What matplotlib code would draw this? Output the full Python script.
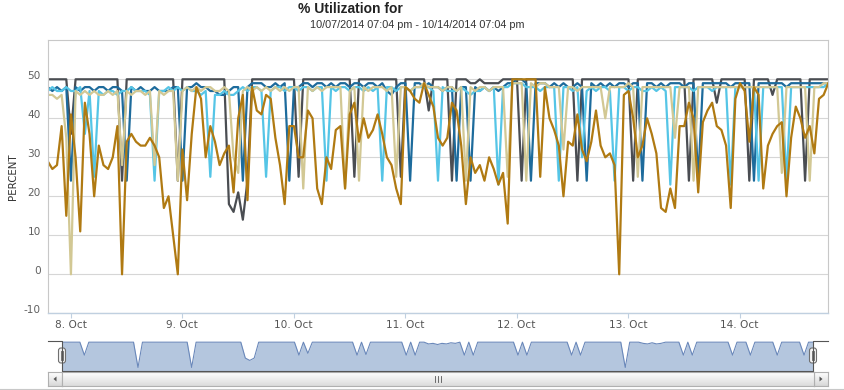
import numpy as np
import pandas as pd
import matplotlib
matplotlib.use("Agg")
import matplotlib.pyplot as plt
import matplotlib.dates as mdates
import matplotlib.transforms as mtransforms
from matplotlib.patches import Rectangle, FancyBboxPatch, Polygon
from matplotlib.lines import Line2D
from matplotlib.colors import LinearSegmentedColormap

W, H = 845, 390  # output size in pixels

# hourly samples, 10/07/2014 07:04 pm .. 10/14/2014 07:04 pm
times = pd.date_range("2014-10-07 19:04", periods=169, freq="h")

# % utilization per interface
gray = [50, 50, 50, 50, 50, 36, 50, 50, 50, 50, 50, 50, 50, 50, 50, 50, 24, 50, 50, 50, 50, 50, 50, 50,
        50, 50, 50, 50, 24, 50, 50, 50, 50, 50, 50, 50, 50, 50, 50, 18, 16, 21, 14, 24, 50, 50, 50, 50,
        50, 50, 50, 50, 50, 50, 25, 50, 50, 50, 50, 50, 50, 50, 50, 50, 50, 50, 25, 50, 50, 50, 50, 50,
        50, 50, 50, 50, 25, 50, 50, 50, 50, 50, 42, 50, 50, 50, 50, 24, 50, 50, 50, 49, 49, 50, 49, 49,
        49, 49, 50, 50, 50, 50, 24, 50, 50, 50, 50, 50, 50, 50, 50, 50, 50, 50, 24, 50, 50, 50, 50, 50,
        50, 50, 50, 50, 50, 50, 24, 50, 50, 50, 50, 50, 50, 50, 50, 50, 50, 50, 24, 50, 50, 50, 50, 50,
        44, 50, 50, 50, 50, 50, 50, 24, 50, 50, 50, 50, 46, 50, 50, 50, 50, 50, 50, 24, 50, 50, 50, 50,
        50]
blue = [48, 47, 48, 47, 48, 24, 48, 47, 48, 48, 47, 48, 48, 47, 48, 48, 47, 24, 48, 47, 48, 47, 47, 48,
        47, 47, 47, 48, 48, 24, 48, 48, 49, 48, 48, 47, 47, 46, 46, 47, 48, 48, 24, 48, 49, 49, 49, 48,
        48, 49, 48, 49, 24, 48, 48, 49, 49, 48, 49, 49, 48, 49, 48, 49, 49, 48, 49, 49, 48, 49, 49, 48,
        49, 47, 46, 48, 49, 49, 24, 49, 49, 48, 49, 48, 48, 47, 48, 48, 24, 48, 48, 24, 48, 47, 48, 47,
        48, 47, 48, 49, 49, 50, 50, 49, 24, 49, 49, 49, 48, 49, 48, 49, 48, 48, 49, 48, 24, 49, 48, 49,
        48, 49, 48, 49, 49, 48, 49, 49, 24, 49, 49, 48, 49, 48, 49, 49, 49, 48, 49, 49, 24, 49, 49, 49,
        49, 49, 49, 48, 49, 49, 49, 49, 24, 49, 49, 49, 49, 49, 49, 48, 49, 49, 49, 49, 49, 49, 49, 49,
        49]
cyan = [47, 48, 47, 47, 48, 47, 47, 48, 36, 47, 25, 47, 46, 47, 47, 46, 47, 47, 48, 47, 47, 47, 46, 24,
        47, 47, 48, 47, 48, 47, 48, 47, 47, 46, 47, 25, 46, 46, 47, 46, 46, 47, 48, 47, 48, 48, 47, 25,
        47, 48, 48, 47, 48, 48, 47, 48, 48, 47, 48, 48, 24, 48, 47, 48, 48, 47, 48, 48, 47, 48, 47, 48,
        24, 48, 48, 47, 48, 48, 47, 48, 48, 48, 48, 47, 24, 48, 47, 47, 47, 48, 47, 46, 47, 47, 48, 47,
        48, 23, 48, 48, 49, 49, 49, 48, 48, 48, 47, 48, 48, 48, 24, 48, 48, 47, 48, 30, 47, 48, 47, 48,
        48, 47, 24, 48, 48, 47, 48, 48, 47, 47, 48, 47, 48, 47, 23, 48, 48, 48, 48, 47, 48, 48, 48, 47,
        48, 48, 48, 23, 48, 48, 48, 48, 48, 24, 48, 48, 48, 48, 48, 24, 48, 48, 48, 48, 48, 48, 48, 48,
        49]
khaki = [46, 46, 45, 46, 35, 0, 47, 46, 47, 46, 47, 46, 46, 47, 46, 47, 28, 47, 46, 47, 47, 46, 47, 28,
         47, 46, 47, 47, 24, 47, 48, 47, 48, 47, 48, 48, 47, 47, 48, 47, 30, 26, 47, 48, 47, 48, 47, 48,
         47, 48, 47, 48, 47, 48, 48, 22, 48, 47, 48, 47, 48, 48, 48, 48, 22, 47, 48, 24, 48, 47, 48, 48,
         48, 47, 48, 25, 48, 48, 47, 48, 48, 49, 48, 48, 48, 47, 48, 48, 47, 48, 24, 48, 47, 48, 48, 47,
         48, 48, 48, 25, 49, 49, 49, 24, 49, 48, 49, 49, 48, 48, 48, 32, 48, 48, 47, 48, 48, 48, 48, 48,
         40, 48, 48, 48, 48, 49, 48, 25, 48, 48, 48, 48, 48, 48, 48, 35, 48, 48, 48, 24, 48, 48, 48, 48,
         48, 48, 48, 48, 48, 48, 48, 48, 48, 48, 48, 48, 48, 48, 26, 48, 48, 48, 48, 48, 24, 48, 48, 49,
         49]
brown = [29, 27, 28, 38, 15, 41, 30, 11, 44, 36, 20, 33, 28, 27, 30, 38, 0, 34, 36, 34, 33, 33, 35, 33,
         30, 17, 20, 10, 0, 32, 19, 36, 48, 45, 30, 38, 34, 28, 31, 33, 21, 40, 46, 19, 48, 42, 41, 46,
         45, 35, 28, 18, 38, 38, 30, 30, 42, 40, 22, 18, 30, 27, 37, 38, 22, 41, 44, 34, 40, 35, 37, 41,
         36, 30, 28, 22, 18, 48, 47, 45, 44, 49, 46, 43, 35, 33, 35, 44, 42, 33, 18, 30, 26, 28, 24, 30,
         27, 23, 26, 13, 50, 50, 50, 50, 50, 50, 25, 48, 40, 37, 33, 20, 34, 33, 41, 32, 29, 34, 42, 33,
         30, 31, 28, 0, 46, 47, 40, 30, 33, 40, 36, 31, 17, 16, 22, 17, 38, 38, 44, 40, 21, 39, 42, 44,
         38, 37, 33, 17, 45, 49, 47, 34, 48, 46, 22, 33, 36, 38, 39, 20, 35, 43, 40, 35, 38, 31, 45, 46,
         49]

# navigator series (small overview below the chart)
nav = [49, 49, 49, 49, 49, 27, 49, 49, 49, 49, 49, 49, 49, 49, 49, 49, 49, 6, 49, 49, 49, 49, 49, 49,
       49, 49, 49, 49, 49, 6, 49, 49, 49, 49, 49, 49, 49, 49, 49, 49, 49, 22, 18, 22, 49, 49, 49, 49,
       49, 49, 49, 49, 49, 27, 49, 30, 49, 49, 49, 49, 49, 49, 49, 49, 49, 49, 27, 49, 28, 49, 49, 49,
       49, 49, 49, 49, 49, 27, 49, 27, 49, 49, 46, 47, 45, 47, 46, 48, 47, 49, 27, 49, 27, 49, 49, 49,
       49, 49, 49, 49, 49, 49, 27, 49, 27, 49, 49, 49, 49, 49, 49, 49, 49, 49, 27, 49, 27, 49, 49, 49,
       49, 49, 49, 49, 49, 49, 6, 49, 49, 49, 47, 46, 48, 46, 47, 49, 49, 49, 49, 27, 49, 27, 49, 49,
       49, 49, 49, 49, 49, 49, 27, 49, 49, 49, 27, 49, 49, 49, 49, 49, 27, 49, 49, 49, 49, 49, 27, 49,
       49]

series = [gray, blue, cyan, khaki, brown]
colors = ["#4a4d52", "#1d6b9c", "#55c5e6", "#d2c894", "#b07a12"]

day_ticks = pd.date_range("2014-10-08", periods=7, freq="D")
day_labels = ["8. Oct", "9. Oct", "10. Oct", "11. Oct", "12. Oct", "13. Oct", "14. Oct"]
y_ticks = [-10, 0, 10, 20, 30, 40, 50]

x = mdates.date2num(times.to_pydatetime())
xt = mdates.date2num(day_ticks.to_pydatetime())


def fx(px):
    return px / W


def fy(py):
    return 1 - py / H


fig = plt.figure(figsize=(W / 100, H / 100), dpi=100)
fig.patch.set_facecolor("white")

# main plot
ax = fig.add_axes([fx(47.7), fy(313.3), (828.3 - 47.7) / W, (313.3 - 40.3) / H])
for vals, c in zip(series, colors):
    ax.plot(x, vals, color=c, lw=1.6, solid_joinstyle="round")
ax.set_xlim(x[0], x[-1])
ax.set_ylim(-10, 60)
ax.set_yticks(y_ticks)
ax.set_yticklabels([str(v) for v in y_ticks])
ax.set_xticks(xt)
ax.set_xticklabels(day_labels)
ax.yaxis.grid(True, color="#d6d6d6", lw=0.8)
ax.set_axisbelow(True)
ax.tick_params(axis="y", length=0, pad=5, labelsize=7.6, labelcolor="#606060")
ax.tick_params(axis="x", length=3.6, width=0.8, color="#c0d0e0", pad=1.5,
               labelsize=7.6, labelcolor="#555555")
for s in ["top", "left", "right"]:
    ax.spines[s].set_color("#c8c8c8")
    ax.spines[s].set_linewidth(0.8)
ax.spines["bottom"].set_color("#c0d0e0")
ax.spines["bottom"].set_linewidth(1.0)

# y labels sit a little above their grid lines
shift = mtransforms.ScaledTranslation(0, 4.3 / 100, fig.dpi_scale_trans)
for lab in ax.get_yticklabels():
    lab.set_transform(lab.get_transform() + shift)

fig.text(fx(13), fy(177), "PERCENT", rotation=90, ha="center", va="center",
         fontsize=7.4, color="#333333")

# titles
fig.text(fx(297.7), fy(9), "% Utilization for", ha="left", va="center",
         fontsize=10, fontweight="bold", family="Liberation Sans", color="#222222")
fig.text(fx(417.5), fy(25), "10/07/2014 07:04 pm - 10/14/2014 07:04 pm", ha="center",
         va="center", fontsize=7.8, family="Liberation Sans", color="#333333")

# navigator
axn = fig.add_axes([fx(62), fy(371), (813 - 62) / W, 30 / H])
axn.fill_between(x, nav, 0, color="#b4c6de", lw=0)
axn.plot(x, nav, color="#6a88ba", lw=0.8)
axn.set_xlim(x[0], x[-1])
axn.set_ylim(0, 51)
axn.axis("off")

ident = mtransforms.IdentityTransform()
ox = [48, 62, 62, 813, 813, 828]
oy = [340.5, 340.5, 371, 371, 340.5, 340.5]
fig.add_artist(Line2D(ox, [H - v for v in oy], transform=ident, color="#555555", lw=0.8))


# scrollbar
def grad_box(x0, y0, x1, y1, top, bot, edge):
    a = fig.add_axes([fx(x0), fy(y1), (x1 - x0) / W, (y1 - y0) / H])
    cmap = LinearSegmentedColormap.from_list("g", [top, bot])
    a.imshow(np.linspace(0, 1, 32).reshape(-1, 1), aspect="auto", cmap=cmap, extent=(0, 1, 0, 1))
    a.set_xticks([])
    a.set_yticks([])
    for s in a.spines.values():
        s.set_color(edge)
        s.set_linewidth(0.8)
    return a


grad_box(48, 372, 62, 386, "#ffffff", "#d8d8d8", "#b0b0b0")
grad_box(814, 372, 828, 386, "#ffffff", "#d8d8d8", "#b0b0b0")
grad_box(62, 372, 814, 386, "#ffffff", "#dcdcdc", "#b0b0b0")

for gx in (434.5, 437.5, 440.5):
    fig.add_artist(Line2D([gx, gx], [H - 382, H - 376], transform=ident, color="#555555", lw=0.6))
fig.add_artist(Polygon([(53.5, H - 379), (56.5, H - 376.5), (56.5, H - 381.5)],
                       closed=True, transform=ident, fc="#555555", ec="none"))
fig.add_artist(Polygon([(822.5, H - 379), (819.5, H - 376.5), (819.5, H - 381.5)],
                       closed=True, transform=ident, fc="#555555", ec="none"))

# navigator handles
for hx in (62, 813):
    fig.add_artist(FancyBboxPatch((hx - 3.5, H - 363), 7, 15,
                                  boxstyle="round,pad=0,rounding_size=2.5", transform=ident,
                                  fc="#f4f4f4", ec="#707070", lw=0.8))
    for d in (-1, 1):
        fig.add_artist(Line2D([hx + d, hx + d], [H - 360, H - 351], transform=ident,
                              color="#606060", lw=0.6))

# bottom border line
fig.add_artist(Line2D([0, W], [H - 388.5, H - 388.5], transform=ident, color="#c8c8c8", lw=0.8))

fig.savefig("out.png", dpi=100)
